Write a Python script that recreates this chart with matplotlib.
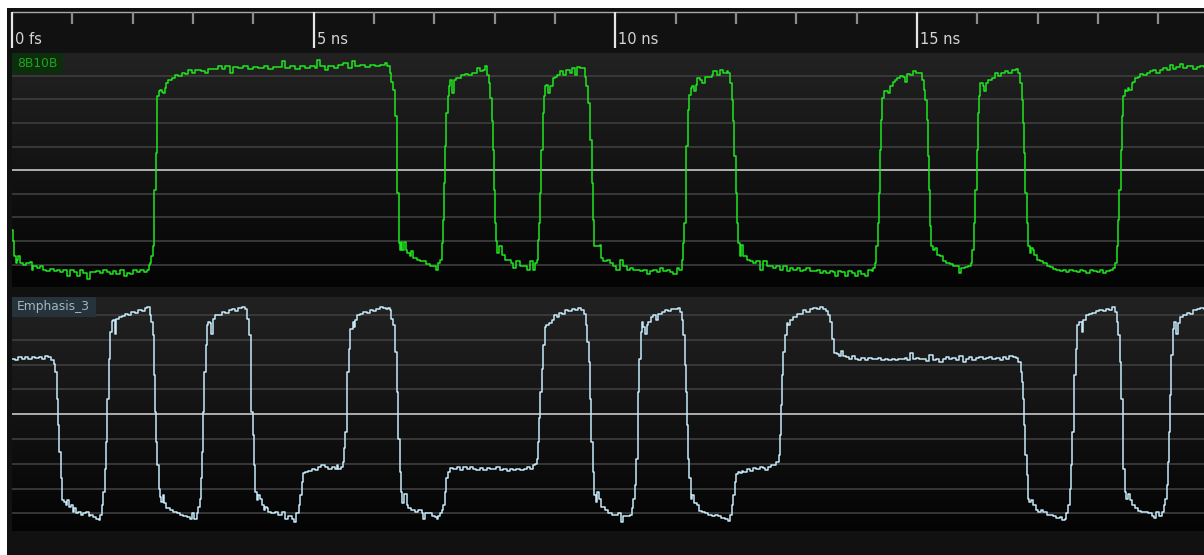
import matplotlib
matplotlib.use("Agg")
from matplotlib import pyplot as plt
from matplotlib.colors import LinearSegmentedColormap
from matplotlib.patches import Rectangle
import numpy as np

W, H = 1204, 555

# time axis (ns)
t_end = 19.76
major_ticks = [0, 5, 10, 15]
major_labels = ["0 fs", "5 ns", "10 ns", "15 ns"]
minor_ticks = [t for t in range(1, 20) if t % 5]

# captured traces: (time ns, mV)
bb10b = [
    (0.00, -252), (0.02, -302), (0.04, -365), (0.06, -393), (0.08, -379), (0.10, -362), (0.14, -393),
    (0.19, -400), (0.24, -393), (0.30, -389), (0.33, -422), (0.35, -408), (0.41, -415), (0.46, -408),
    (0.52, -422), (0.57, -429), (0.63, -419), (0.69, -429), (0.74, -422), (0.80, -433), (0.85, -422),
    (0.91, -447), (0.96, -425), (1.02, -433), (1.07, -450), (1.13, -425), (1.18, -436), (1.24, -461),
    (1.29, -433), (1.35, -433), (1.40, -429), (1.46, -436), (1.51, -425), (1.57, -433), (1.62, -439),
    (1.68, -429), (1.73, -439), (1.79, -422), (1.85, -450), (1.90, -436), (1.96, -439), (2.01, -425),
    (2.07, -433), (2.12, -422), (2.18, -433), (2.23, -422), (2.27, -400), (2.29, -393), (2.31, -365),
    (2.33, -323), (2.35, -210), (2.36, -83), (2.38, 73), (2.40, 235), (2.41, 313), (2.43, 334),
    (2.45, 341), (2.48, 330), (2.51, 327), (2.54, 348), (2.56, 369), (2.59, 383), (2.65, 390),
    (2.70, 405), (2.76, 400), (2.81, 412), (2.87, 409), (2.92, 423), (2.98, 414), (3.03, 426),
    (3.09, 423), (3.14, 419), (3.20, 412), (3.25, 429), (3.34, 429), (3.42, 440), (3.48, 429),
    (3.53, 443), (3.61, 414), (3.67, 437), (3.75, 433), (3.83, 440), (3.92, 429), (4.00, 437),
    (4.08, 433), (4.17, 440), (4.25, 429), (4.33, 437), (4.41, 437), (4.47, 461), (4.52, 433),
    (4.61, 443), (4.69, 429), (4.77, 440), (4.86, 433), (4.94, 443), (5.02, 433), (5.05, 468),
    (5.10, 443), (5.19, 423), (5.24, 443), (5.33, 433), (5.41, 447), (5.49, 454), (5.57, 433),
    (5.63, 461), (5.69, 440), (5.77, 447), (5.85, 437), (5.93, 447), (6.02, 443), (6.10, 447),
    (6.18, 454), (6.22, 440), (6.27, 412), (6.29, 376), (6.32, 341), (6.35, 228), (6.38, 101),
    (6.39, -97), (6.41, -309), (6.43, -337), (6.45, -306), (6.46, -337), (6.49, -306), (6.53, -337),
    (6.55, -351), (6.59, -365), (6.62, -344), (6.65, -372), (6.71, -379), (6.76, -386), (6.82, -386),
    (6.87, -396), (6.93, -405), (6.98, -408), (7.03, -422), (7.07, -393), (7.09, -379), (7.12, -309),
    (7.14, -210), (7.16, -54), (7.18, 101), (7.19, 242), (7.22, 313), (7.24, 355), (7.26, 383),
    (7.29, 376), (7.30, 327), (7.33, 383), (7.36, 390), (7.40, 390), (7.45, 405), (7.51, 409),
    (7.56, 405), (7.62, 414), (7.67, 412), (7.71, 433), (7.76, 419), (7.80, 423), (7.84, 440),
    (7.88, 405), (7.91, 369), (7.93, 306), (7.95, 207), (7.97, 87), (7.99, -83), (8.01, -224),
    (8.02, -302), (8.04, -351), (8.07, -323), (8.10, -323), (8.13, -358), (8.17, -379), (8.23, -379),
    (8.28, -393), (8.31, -415), (8.36, -386), (8.42, -405), (8.48, -408), (8.53, -422), (8.59, -386),
    (8.63, -422), (8.67, -393), (8.70, -379), (8.72, -294), (8.74, -224), (8.76, -97), (8.77, 87),
    (8.80, 242), (8.82, 313), (8.84, 355), (8.86, 362), (8.89, 327), (8.92, 355), (8.96, 390),
    (9.00, 397), (9.03, 405), (9.08, 419), (9.14, 405), (9.19, 426), (9.25, 414), (9.29, 433),
    (9.33, 405), (9.36, 437), (9.41, 433), (9.46, 433), (9.50, 397), (9.52, 355), (9.55, 285),
    (9.58, 129), (9.61, -54), (9.63, -210), (9.65, -323), (9.69, -323), (9.74, -316), (9.76, -372),
    (9.80, -386), (9.86, -379), (9.91, -393), (9.97, -405), (10.02, -422), (10.08, -379), (10.13, -408),
    (10.19, -422), (10.24, -415), (10.30, -422), (10.35, -422), (10.41, -429), (10.46, -422),
    (10.52, -439), (10.57, -429), (10.63, -425), (10.69, -433), (10.74, -415), (10.80, -429),
    (10.85, -422), (10.91, -433), (10.96, -439), (11.02, -415), (11.06, -422), (11.10, -379),
    (11.13, -309), (11.14, -224), (11.17, -54), (11.18, 101), (11.20, 256), (11.23, 320), (11.25, 348),
    (11.28, 355), (11.31, 334), (11.34, 362), (11.36, 390), (11.40, 383), (11.43, 369), (11.49, 397),
    (11.54, 397), (11.60, 405), (11.62, 419), (11.68, 405), (11.73, 423), (11.79, 412), (11.85, 419),
    (11.87, 412), (11.90, 369), (11.93, 299), (11.96, 207), (11.97, 59), (12.00, -97), (12.02, -224),
    (12.04, -309), (12.07, -365), (12.09, -316), (12.12, -365), (12.18, -379), (12.23, -386),
    (12.29, -393), (12.34, -386), (12.40, -422), (12.45, -386), (12.51, -408), (12.56, -405),
    (12.62, -415), (12.67, -408), (12.73, -422), (12.78, -408), (12.84, -429), (12.90, -415),
    (12.95, -422), (13.01, -415), (13.06, -429), (13.12, -422), (13.17, -415), (13.23, -429),
    (13.28, -429), (13.34, -422), (13.39, -436), (13.45, -429), (13.50, -436), (13.56, -429),
    (13.61, -433), (13.64, -450), (13.70, -429), (13.75, -433), (13.81, -447), (13.86, -429),
    (13.92, -436), (13.97, -447), (14.03, -429), (14.08, -439), (14.14, -447), (14.19, -422),
    (14.25, -429), (14.28, -415), (14.30, -393), (14.33, -323), (14.35, -224), (14.37, -97),
    (14.39, 87), (14.41, 214), (14.43, 306), (14.46, 334), (14.50, 334), (14.52, 327), (14.55, 355),
    (14.60, 376), (14.64, 383), (14.67, 390), (14.72, 400), (14.77, 397), (14.80, 376), (14.83, 409),
    (14.88, 405), (14.94, 419), (14.99, 412), (15.05, 412), (15.09, 383), (15.12, 341), (15.14, 299),
    (15.16, 214), (15.18, 59), (15.20, -83), (15.22, -238), (15.24, -323), (15.27, -337), (15.30, -330),
    (15.33, -358), (15.38, -365), (15.44, -386), (15.49, -393), (15.55, -396), (15.60, -408),
    (15.66, -405), (15.70, -436), (15.74, -415), (15.80, -410), (15.85, -408), (15.89, -393),
    (15.92, -337), (15.95, -224), (15.97, -83), (15.99, 87), (16.02, 242), (16.03, 313), (16.05, 369),
    (16.09, 355), (16.11, 334), (16.14, 369), (16.18, 383), (16.24, 390), (16.29, 412), (16.35, 400),
    (16.40, 412), (16.46, 419), (16.51, 414), (16.57, 423), (16.64, 429), (16.68, 412), (16.71, 369),
    (16.74, 299), (16.76, 200), (16.78, 73), (16.80, -97), (16.82, -224), (16.84, -323), (16.87, -351),
    (16.90, -330), (16.93, -337), (16.95, -358), (16.99, -379), (17.04, -386), (17.09, -393),
    (17.15, -405), (17.20, -410), (17.26, -419), (17.31, -422), (17.37, -429), (17.42, -422),
    (17.48, -433), (17.53, -425), (17.59, -429), (17.65, -433), (17.70, -422), (17.76, -429),
    (17.81, -436), (17.87, -425), (17.92, -429), (17.98, -433), (18.03, -425), (18.09, -436),
    (18.14, -429), (18.20, -422), (18.25, -415), (18.29, -393), (18.31, -323), (18.34, -210),
    (18.35, -83), (18.38, 87), (18.40, 228), (18.42, 313), (18.45, 341), (18.47, 334), (18.50, 348),
    (18.52, 341), (18.56, 369), (18.58, 376), (18.61, 390), (18.67, 397), (18.70, 409), (18.75, 405),
    (18.81, 412), (18.86, 419), (18.92, 423), (18.97, 412), (19.03, 426), (19.08, 433), (19.14, 423),
    (19.19, 447), (19.25, 429), (19.30, 437), (19.36, 451), (19.41, 433), (19.47, 440), (19.52, 443),
    (19.58, 429), (19.64, 437), (19.69, 440), (19.76, 437),
]

emphasis_3 = [
    (0.00, 224), (0.05, 218), (0.10, 231), (0.16, 224), (0.22, 231), (0.27, 224), (0.33, 231),
    (0.38, 227), (0.44, 231), (0.49, 224), (0.55, 234), (0.60, 231), (0.64, 218), (0.69, 204),
    (0.71, 171), (0.74, 63), (0.77, -44), (0.78, -152), (0.81, -259), (0.83, -347), (0.86, -353),
    (0.90, -367), (0.92, -347), (0.95, -374), (0.97, -367), (1.01, -394), (1.03, -380), (1.06, -400),
    (1.10, -394), (1.14, -405), (1.18, -400), (1.23, -394), (1.27, -410), (1.30, -407), (1.35, -414),
    (1.39, -421), (1.44, -427), (1.46, -405), (1.49, -367), (1.51, -313), (1.54, -219), (1.56, -112),
    (1.58, 63), (1.60, 224), (1.62, 332), (1.65, 375), (1.68, 379), (1.71, 325), (1.73, 386),
    (1.77, 392), (1.82, 396), (1.87, 406), (1.93, 402), (1.98, 413), (2.04, 410), (2.09, 419),
    (2.15, 415), (2.20, 429), (2.24, 433), (2.28, 402), (2.31, 372), (2.33, 319), (2.35, 157),
    (2.37, 9), (2.39, -112), (2.41, -206), (2.43, -300), (2.45, -333), (2.47, -353), (2.50, -327),
    (2.52, -360), (2.56, -380), (2.62, -387), (2.67, -394), (2.73, -400), (2.78, -405), (2.84, -410),
    (2.90, -414), (2.95, -421), (2.99, -400), (3.02, -421), (3.06, -400), (3.09, -374), (3.12, -340),
    (3.14, -259), (3.15, -152), (3.17, 9), (3.19, 171), (3.21, 278), (3.23, 359), (3.25, 372),
    (3.28, 366), (3.30, 325), (3.34, 386), (3.36, 399), (3.42, 402), (3.48, 413), (3.53, 410),
    (3.59, 419), (3.64, 426), (3.70, 415), (3.75, 429), (3.81, 433), (3.86, 426), (3.90, 386),
    (3.93, 319), (3.96, 171), (3.97, 9), (3.99, -85), (4.01, -206), (4.03, -313), (4.06, -347),
    (4.08, -327), (4.11, -340), (4.14, -367), (4.17, -387), (4.19, -374), (4.22, -380), (4.25, -394),
    (4.30, -400), (4.36, -394), (4.41, -407), (4.47, -394), (4.52, -421), (4.58, -410), (4.64, -421),
    (4.67, -434), (4.71, -400), (4.75, -367), (4.77, -327), (4.80, -273), (4.83, -239), (4.86, -233),
    (4.91, -230), (4.97, -222), (5.02, -226), (5.08, -212), (5.13, -206), (5.19, -212), (5.24, -219),
    (5.30, -212), (5.35, -219), (5.38, -203), (5.41, -219), (5.45, -212), (5.48, -192), (5.50, -138),
    (5.52, -71), (5.55, 50), (5.56, 171), (5.59, 265), (5.61, 345), (5.65, 372), (5.67, 352),
    (5.69, 379), (5.72, 399), (5.77, 406), (5.82, 413), (5.88, 410), (5.93, 419), (5.99, 415),
    (6.04, 423), (6.10, 433), (6.15, 429), (6.20, 426), (6.24, 429), (6.27, 419), (6.29, 386),
    (6.32, 359), (6.35, 251), (6.38, 90), (6.40, -98), (6.43, -233), (6.45, -313), (6.46, -360),
    (6.49, -320), (6.51, -320), (6.54, -367), (6.57, -380), (6.62, -387), (6.68, -394), (6.73, -387),
    (6.79, -400), (6.82, -421), (6.84, -400), (6.90, -400), (6.96, -410), (7.01, -414), (7.04, -423),
    (7.07, -410), (7.09, -400), (7.12, -387), (7.15, -367), (7.18, -313), (7.20, -259), (7.23, -233),
    (7.26, -216), (7.31, -222), (7.37, -212), (7.43, -226), (7.48, -212), (7.54, -222), (7.59, -212),
    (7.65, -219), (7.70, -226), (7.76, -216), (7.81, -226), (7.87, -216), (7.92, -222), (7.98, -219),
    (8.03, -212), (8.09, -226), (8.14, -219), (8.20, -230), (8.25, -219), (8.31, -226), (8.36, -222),
    (8.42, -226), (8.48, -219), (8.53, -212), (8.59, -219), (8.63, -206), (8.67, -199), (8.70, -179),
    (8.72, -112), (8.74, -17), (8.76, 90), (8.78, 184), (8.81, 278), (8.83, 352), (8.86, 359),
    (8.91, 366), (8.95, 379), (8.98, 399), (9.03, 392), (9.07, 410), (9.11, 406), (9.17, 419),
    (9.22, 415), (9.28, 426), (9.33, 419), (9.39, 429), (9.44, 419), (9.48, 406), (9.52, 359),
    (9.54, 292), (9.56, 211), (9.58, 63), (9.60, -112), (9.63, -233), (9.65, -327), (9.68, -353),
    (9.70, -313), (9.73, -340), (9.77, -374), (9.83, -387), (9.88, -400), (9.94, -407), (9.99, -405),
    (10.05, -400), (10.09, -434), (10.13, -410), (10.19, -410), (10.24, -405), (10.27, -380),
    (10.30, -340), (10.33, -286), (10.34, -179), (10.37, -44), (10.38, 90), (10.40, 224), (10.42, 332),
    (10.44, 372), (10.46, 352), (10.50, 325), (10.52, 359), (10.55, 372), (10.59, 392), (10.63, 399),
    (10.67, 379), (10.71, 406), (10.77, 413), (10.82, 419), (10.88, 415), (10.93, 426), (10.99, 423),
    (11.04, 429), (11.07, 413), (11.10, 379), (11.13, 319), (11.15, 198), (11.17, 90), (11.19, -44),
    (11.21, -179), (11.22, -259), (11.25, -340), (11.27, -324), (11.31, -360), (11.35, -367),
    (11.39, -391), (11.43, -394), (11.49, -400), (11.54, -405), (11.60, -410), (11.65, -407),
    (11.71, -410), (11.76, -418), (11.82, -421), (11.87, -431), (11.90, -407), (11.93, -367),
    (11.96, -327), (11.98, -273), (12.01, -243), (12.04, -235), (12.07, -239), (12.10, -230),
    (12.12, -233), (12.18, -222), (12.23, -230), (12.29, -216), (12.34, -219), (12.40, -212),
    (12.45, -216), (12.48, -226), (12.54, -212), (12.59, -206), (12.65, -206), (12.67, -192),
    (12.71, -165), (12.73, -85), (12.75, 36), (12.76, 157), (12.78, 251), (12.81, 319), (12.84, 366),
    (12.87, 359), (12.90, 379), (12.95, 392), (13.01, 406), (13.06, 406), (13.12, 419), (13.17, 413),
    (13.23, 426), (13.28, 429), (13.34, 423), (13.39, 433), (13.45, 426), (13.49, 415), (13.53, 399),
    (13.56, 372), (13.59, 345), (13.60, 305), (13.62, 245), (13.67, 241), (13.71, 235), (13.74, 255),
    (13.77, 235), (13.82, 231), (13.88, 224), (13.92, 234), (13.97, 222), (14.03, 218), (14.08, 227),
    (14.14, 218), (14.19, 227), (14.25, 222), (14.30, 224), (14.36, 227), (14.41, 220), (14.47, 224),
    (14.52, 218), (14.58, 222), (14.64, 218), (14.69, 224), (14.75, 224), (14.80, 227), (14.84, 218),
    (14.88, 245), (14.93, 224), (14.98, 227), (15.04, 222), (15.09, 224), (15.15, 214), (15.20, 238),
    (15.26, 218), (15.31, 224), (15.37, 211), (15.43, 224), (15.48, 231), (15.54, 224), (15.59, 227),
    (15.65, 218), (15.70, 235), (15.76, 211), (15.81, 224), (15.87, 231), (15.92, 218), (15.98, 227),
    (16.03, 231), (16.09, 224), (16.14, 227), (16.20, 231), (16.25, 224), (16.31, 227), (16.37, 218),
    (16.42, 231), (16.48, 224), (16.53, 234), (16.59, 231), (16.64, 227), (16.68, 211), (16.72, 171),
    (16.74, 130), (16.76, 63), (16.78, -44), (16.80, -165), (16.82, -246), (16.84, -340), (16.86, -353),
    (16.90, -347), (16.93, -367), (16.97, -387), (17.01, -394), (17.05, -387), (17.09, -396),
    (17.15, -405), (17.20, -407), (17.26, -410), (17.31, -418), (17.37, -414), (17.41, -427),
    (17.45, -421), (17.48, -400), (17.51, -367), (17.54, -300), (17.56, -206), (17.58, -71),
    (17.60, 50), (17.61, 157), (17.64, 265), (17.66, 359), (17.69, 372), (17.73, 332), (17.76, 379),
    (17.80, 399), (17.86, 406), (17.91, 410), (17.97, 415), (18.02, 419), (18.08, 415), (18.13, 426),
    (18.19, 419), (18.24, 433), (18.28, 413), (18.31, 372), (18.34, 319), (18.37, 211), (18.39, 63),
    (18.41, -85), (18.42, -219), (18.45, -313), (18.47, -340), (18.50, -320), (18.53, -347),
    (18.56, -367), (18.61, -380), (18.67, -391), (18.72, -396), (18.78, -394), (18.83, -400),
    (18.89, -410), (18.93, -418), (18.97, -394), (19.02, -410), (19.06, -394), (19.09, -367),
    (19.11, -340), (19.14, -286), (19.16, -192), (19.18, -71), (19.20, 77), (19.22, 238), (19.25, 345),
    (19.27, 372), (19.30, 325), (19.33, 366), (19.37, 392), (19.41, 399), (19.47, 410), (19.53, 406),
    (19.58, 419), (19.64, 423), (19.69, 429), (19.76, 426),
]

grid_mv = [-400, -300, -200, -100, 100, 200, 300, 400]

bg_cmap = LinearSegmentedColormap.from_list("bg", ["#040404", "#222222"])


def fig_box(x0, y0, x1, y1):
    # pixel box (from top-left) -> figure fraction
    return [x0 / W, 1 - y1 / H, (x1 - x0) / W, (y1 - y0) / H]


def panel(fig, box, ylim, trace, color, name, name_w, name_face, name_color):
    ax = fig.add_axes(box)
    ax.set_xlim(0, t_end)
    ax.set_ylim(*ylim)
    ax.axis("off")
    grad = np.linspace(1, 0, 256).reshape(-1, 1)
    ax.imshow(grad, cmap=bg_cmap, aspect="auto", interpolation="bilinear",
              extent=[0, t_end, ylim[0], ylim[1]], zorder=0)
    for g in grid_mv:
        ax.axhline(g, color="#3e3e3e", lw=1.2, zorder=1)
    ax.axhline(0, color="#c8c8c8", lw=1.2, zorder=1)

    t, v = np.array(trace).T
    ax.plot(t, v, color=color, lw=1.1, drawstyle="steps-post", zorder=3)

    hh = 20.5 / 234
    ax.add_patch(Rectangle((0, 1 - hh), name_w / 1192, hh, transform=ax.transAxes,
                           facecolor=name_face, edgecolor="none", zorder=4))
    ax.text(5 / 1192, 1 - hh / 2, name, transform=ax.transAxes, color=name_color,
            fontsize=8.8, va="center", ha="left", zorder=5)
    return ax


fig = plt.figure(figsize=(W / 100, H / 100), dpi=100, facecolor="white")
fig.add_artist(Rectangle((7 / W, 0), 1 - 7 / W, 1 - 8 / H, transform=fig.transFigure,
                         facecolor="#111111", edgecolor="none", zorder=0))

# ruler
rax = fig.add_axes(fig_box(12, 8, W, 53))
rax.set_xlim(0, t_end)
rax.set_ylim(45, 0)
rax.axis("off")
rax.axhline(4.3, color="#a8a8a8", lw=1.0)
rax.vlines(minor_ticks, 4.3, 15.5, color="#8c8c8c", lw=1.6)
rax.vlines(major_ticks, 4.3, 39.5, color="#e6e6e6", lw=1.6, clip_on=False)
for t, s in zip(major_ticks, major_labels):
    rax.text(t + 0.05, 36.3, s, color="#d4d4d4", fontsize=10.5, va="baseline", ha="left")

panel(fig, fig_box(12, 53, W, 287), (-495, 497), bb10b, "#1ee61e",
      "8B10B", 51, "#0c2e0c", "#1fa51f")
panel(fig, fig_box(12, 296.7, W, 531), (-471, 474), emphasis_3, "#c6eafa",
      "Emphasis_3", 84, "#27333a", "#9fb6c3")

fig.savefig("out.png", dpi=100, facecolor="white")
